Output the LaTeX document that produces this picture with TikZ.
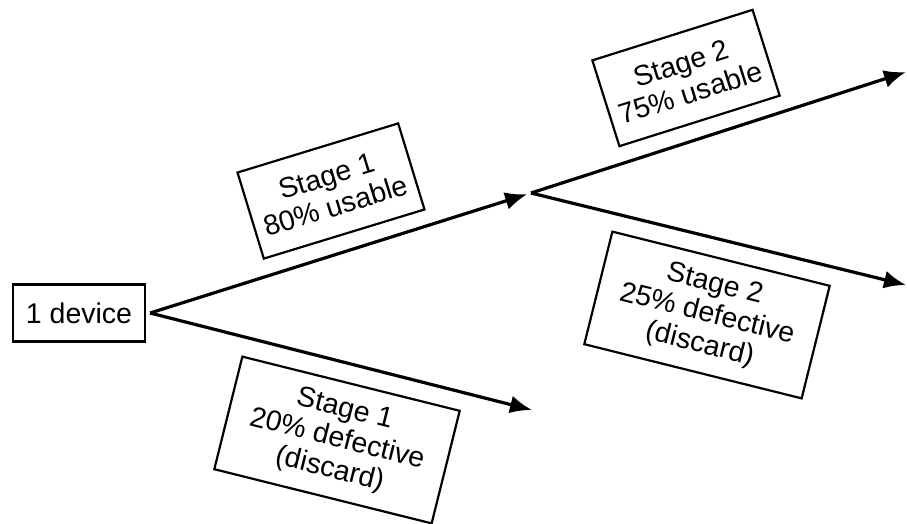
\documentclass[tikz,border=0pt]{standalone}
\usepackage{fontspec}
\setmainfont{Liberation Sans}
\usetikzlibrary{arrows.meta,positioning}

\tikzset{
  stagebox/.style={draw,line width=2.2pt,align=center,inner sep=0pt,
    font=\fontsize{28.5}{31}\selectfont},
  twoline/.style={stagebox,minimum width=168pt,minimum height=90pt},
  threeline/.style={stagebox,minimum width=224pt,minimum height=116pt},
  flow/.style={line width=3.2pt,-{Latex[length=22pt,width=18pt]}},
}

\begin{document}
\begin{tikzpicture}[x=1pt,y=-1pt]
  \useasboundingbox (0,0) rectangle (907,523);
  % start
  \node[stagebox,minimum width=132pt,minimum height=57pt] (device) at (79,313) {1 device};
  \coordinate (fork1) at ([xshift=4pt]device.east);
  \coordinate (fork2) at (531,193);
  \coordinate (discard1) at (532,410);
  \coordinate (usable2) at (906,72);
  \coordinate (discard2) at (906,285);
  % branches
  \draw[flow,shorten >=4pt] (fork1) -- (fork2);
  \draw[flow] (fork1) -- (discard1);
  \draw[flow] (fork2) -- (usable2);
  \draw[flow] (fork2) -- (discard2);
  % stage labels
  \node[twoline,rotate=17] (use1) at (331,191) {Stage 1\\80\% usable};
  \node[threeline,rotate=-14] (def1) at (337,440) {Stage 1\\20\% defective\\(discard)};
  \node[twoline,rotate=17.5] (use2) at (686,78) {Stage 2\\75\% usable};
  \node[threeline,rotate=-14] (def2) at (707,315) {Stage 2\\25\% defective\\(discard)};
\end{tikzpicture}
\end{document}
